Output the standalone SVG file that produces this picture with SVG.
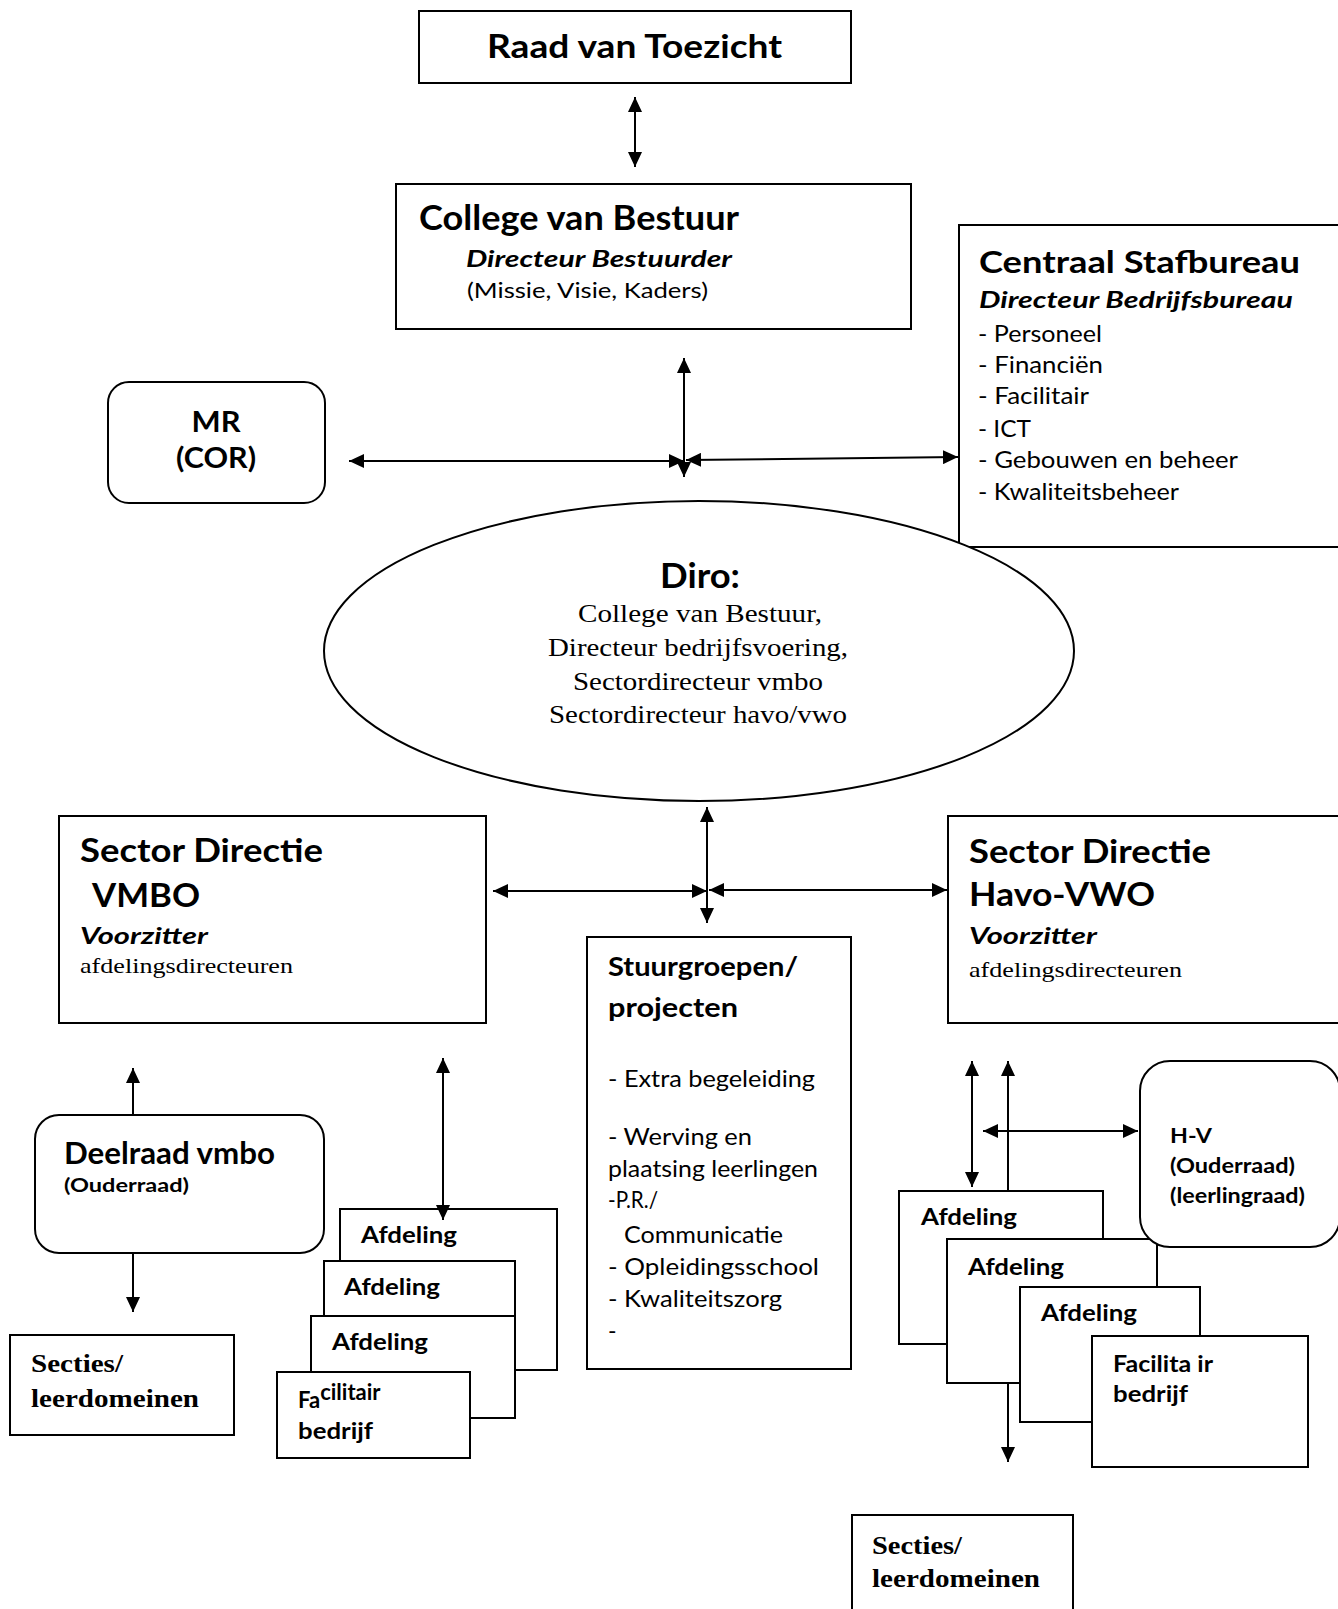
<svg xmlns="http://www.w3.org/2000/svg" width="1338" height="1609" viewBox="0 0 1338 1609">
<style>
.box{fill:#fff;stroke:#000;stroke-width:2}
.ln{fill:none;stroke:#000;stroke-width:2}
.dbl{marker-start:url(#ah);marker-end:url(#ah)}
.end{marker-end:url(#ah)}
text{fill:#000}
.b{font-family:Lato,"Liberation Sans",sans-serif;font-weight:700}
.r{font-family:Lato,"Liberation Sans",sans-serif;font-weight:400}
.bi{font-family:Lato,"Liberation Sans",sans-serif;font-weight:700;font-style:italic}
.s{font-family:"Liberation Serif",serif;font-weight:400}
.sb{font-family:"Liberation Serif",serif;font-weight:700}
</style>
<defs>
<marker id="ah" viewBox="0 0 15 14" refX="15" refY="7" markerWidth="15" markerHeight="14" markerUnits="userSpaceOnUse" orient="auto-start-reverse">
<path d="M0,0 L15,7 L0,14 z" fill="#000"/>
</marker>
</defs>
<rect width="1338" height="1609" fill="#fff"/>

<g id="raad">
<rect class="box" x="419" y="11" width="432" height="72"/>
<text class="b" x="487" y="58" font-size="32" textLength="295" lengthAdjust="spacingAndGlyphs">Raad van Toezicht</text>
</g>

<g id="college">
<rect class="box" x="396" y="184" width="515" height="145"/>
<text class="b" x="419" y="230" font-size="34" textLength="320" lengthAdjust="spacingAndGlyphs">College van Bestuur</text>
<text class="bi" x="466" y="267" font-size="23" textLength="266" lengthAdjust="spacingAndGlyphs">Directeur Bestuurder</text>
<text class="r" x="467" y="298" font-size="21" textLength="241" lengthAdjust="spacingAndGlyphs">(Missie, Visie, Kaders)</text>
</g>

<g id="centraal">
<rect class="box" x="959" y="225" width="390" height="322"/>
<text class="b" x="979" y="273" font-size="30" textLength="321" lengthAdjust="spacingAndGlyphs">Centraal Stafbureau</text>
<text class="bi" x="979" y="308" font-size="23" textLength="314" lengthAdjust="spacingAndGlyphs">Directeur Bedrijfsbureau</text>
<text class="r" x="978" y="342" font-size="24" textLength="124" lengthAdjust="spacingAndGlyphs">- Personeel</text>
<text class="r" x="978" y="373" font-size="24" textLength="125" lengthAdjust="spacingAndGlyphs">- Financiën</text>
<text class="r" x="978" y="404" font-size="24" textLength="111" lengthAdjust="spacingAndGlyphs">- Facilitair</text>
<text class="r" x="978" y="437" font-size="24" textLength="53" lengthAdjust="spacingAndGlyphs">- ICT</text>
<text class="r" x="978" y="468" font-size="24" textLength="260" lengthAdjust="spacingAndGlyphs">- Gebouwen en beheer</text>
<text class="r" x="978" y="500" font-size="24" textLength="201" lengthAdjust="spacingAndGlyphs">- Kwaliteitsbeheer</text>
</g>

<g id="mr">
<rect class="box" x="108" y="382" width="217" height="121" rx="21" ry="21"/>
<text class="b" x="216" y="432" font-size="28" text-anchor="middle" textLength="49" lengthAdjust="spacingAndGlyphs">MR</text>
<text class="b" x="216" y="468" font-size="28" text-anchor="middle" textLength="80" lengthAdjust="spacingAndGlyphs">(COR)</text>
</g>

<g id="diro">
<ellipse class="box" cx="699" cy="651" rx="375" ry="150"/>
<text class="b" x="700" y="588" font-size="34" text-anchor="middle" textLength="80" lengthAdjust="spacingAndGlyphs">Diro:</text>
<text class="s" x="578" y="622" font-size="26" textLength="244" lengthAdjust="spacingAndGlyphs">College van Bestuur,</text>
<text class="s" x="548" y="656" font-size="26" textLength="300" lengthAdjust="spacingAndGlyphs">Directeur bedrijfsvoering,</text>
<text class="s" x="573" y="690" font-size="26" textLength="250" lengthAdjust="spacingAndGlyphs">Sectordirecteur vmbo</text>
<text class="s" x="549" y="723" font-size="26" textLength="298" lengthAdjust="spacingAndGlyphs">Sectordirecteur havo/vwo</text>
</g>

<g id="sector-vmbo">
<rect class="box" x="59" y="816" width="427" height="207"/>
<text class="b" x="80" y="862" font-size="33" textLength="243" lengthAdjust="spacingAndGlyphs">Sector Directie</text>
<text class="b" x="92" y="907" font-size="33" textLength="108" lengthAdjust="spacingAndGlyphs">VMBO</text>
<text class="bi" x="80" y="944" font-size="22" textLength="128" lengthAdjust="spacingAndGlyphs">Voorzitter</text>
<text class="s" x="80" y="973" font-size="21" textLength="213" lengthAdjust="spacingAndGlyphs">afdelingsdirecteuren</text>
</g>

<g id="sector-havo">
<rect class="box" x="948" y="816" width="400" height="207"/>
<text class="b" x="969" y="863" font-size="33" textLength="242" lengthAdjust="spacingAndGlyphs">Sector Directie</text>
<text class="b" x="969" y="906" font-size="33" textLength="186" lengthAdjust="spacingAndGlyphs">Havo-VWO</text>
<text class="bi" x="969" y="944" font-size="22" textLength="128" lengthAdjust="spacingAndGlyphs">Voorzitter</text>
<text class="s" x="969" y="977" font-size="21" textLength="213" lengthAdjust="spacingAndGlyphs">afdelingsdirecteuren</text>
</g>

<g id="stuurgroepen">
<rect class="box" x="587" y="937" width="264" height="432"/>
<text class="b" x="608" y="976" font-size="27" textLength="190" lengthAdjust="spacingAndGlyphs">Stuurgroepen/</text>
<text class="b" x="608" y="1017" font-size="27" textLength="130" lengthAdjust="spacingAndGlyphs">projecten</text>
<text class="r" x="608" y="1087" font-size="23" textLength="207" lengthAdjust="spacingAndGlyphs">- Extra begeleiding</text>
<text class="r" x="608" y="1145" font-size="23" textLength="144" lengthAdjust="spacingAndGlyphs">- Werving en</text>
<text class="r" x="608" y="1177" font-size="23" textLength="210" lengthAdjust="spacingAndGlyphs">plaatsing leerlingen</text>
<text class="r" x="608" y="1208" font-size="23" textLength="50" lengthAdjust="spacingAndGlyphs">-P.R./</text>
<text class="r" x="624" y="1243" font-size="23" textLength="159" lengthAdjust="spacingAndGlyphs">Communicatie</text>
<text class="r" x="608" y="1275" font-size="23" textLength="211" lengthAdjust="spacingAndGlyphs">- Opleidingsschool</text>
<text class="r" x="608" y="1307" font-size="23" textLength="174" lengthAdjust="spacingAndGlyphs">- Kwaliteitszorg</text>
<text class="r" x="608" y="1339" font-size="23">-</text>
</g>

<g id="deelraad">
<rect class="box" x="35" y="1115" width="289" height="138" rx="24" ry="24"/>
<text class="b" x="64" y="1164" font-size="30" textLength="211" lengthAdjust="spacingAndGlyphs">Deelraad vmbo</text>
<text class="b" x="64" y="1192" font-size="19" textLength="125" lengthAdjust="spacingAndGlyphs">(Ouderraad)</text>
</g>

<g id="secties-vmbo">
<rect class="box" x="10" y="1335" width="224" height="100"/>
<text class="sb" x="31" y="1372" font-size="26" textLength="92" lengthAdjust="spacingAndGlyphs">Secties/</text>
<text class="sb" x="31" y="1407" font-size="26" textLength="168" lengthAdjust="spacingAndGlyphs">leerdomeinen</text>
</g>

<g id="afdeling-vmbo-1">
<rect class="box" x="340" y="1209" width="217" height="161"/>
<text class="b" x="361" y="1243" font-size="22" textLength="96" lengthAdjust="spacingAndGlyphs">Afdeling</text>
</g>
<g id="afdeling-vmbo-2">
<rect class="box" x="324" y="1261" width="191" height="120"/>
<text class="b" x="344" y="1295" font-size="22" textLength="96" lengthAdjust="spacingAndGlyphs">Afdeling</text>
</g>
<g id="afdeling-vmbo-3">
<rect class="box" x="311" y="1316" width="204" height="102"/>
<text class="b" x="332" y="1350" font-size="22" textLength="96" lengthAdjust="spacingAndGlyphs">Afdeling</text>
</g>
<g id="facilitair-vmbo">
<rect class="box" x="277" y="1372" width="193" height="86"/>
<text class="b" x="298" y="1408" font-size="22">Fa<tspan dy="-8">cilitair</tspan></text>
<text class="b" x="298" y="1439" font-size="22" textLength="75" lengthAdjust="spacingAndGlyphs">bedrijf</text>
</g>

<g id="afdeling-havo-1">
<rect class="box" x="899" y="1191" width="204" height="153"/>
<text class="b" x="921" y="1225" font-size="22" textLength="96" lengthAdjust="spacingAndGlyphs">Afdeling</text>
</g>
<g id="afdeling-havo-2">
<rect class="box" x="947" y="1239" width="210" height="144"/>
<text class="b" x="968" y="1275" font-size="22" textLength="96" lengthAdjust="spacingAndGlyphs">Afdeling</text>
</g>
<g id="hv">
<rect class="box" x="1140" y="1061" width="200" height="186" rx="30" ry="30"/>
<text class="b" x="1170" y="1143" font-size="21" textLength="42" lengthAdjust="spacingAndGlyphs">H-V</text>
<text class="b" x="1170" y="1173" font-size="21" textLength="125" lengthAdjust="spacingAndGlyphs">(Ouderraad)</text>
<text class="b" x="1170" y="1203" font-size="21" textLength="135" lengthAdjust="spacingAndGlyphs">(leerlingraad)</text>
</g>
<g id="afdeling-havo-3">
<rect class="box" x="1020" y="1287" width="180" height="135"/>
<text class="b" x="1041" y="1321" font-size="22" textLength="96" lengthAdjust="spacingAndGlyphs">Afdeling</text>
</g>
<g id="facilitair-havo">
<rect class="box" x="1092" y="1336" width="216" height="131"/>
<text class="b" x="1113" y="1372" font-size="22" textLength="100" lengthAdjust="spacingAndGlyphs">Facilita ir</text>
<text class="b" x="1113" y="1402" font-size="22" textLength="75" lengthAdjust="spacingAndGlyphs">bedrijf</text>
</g>

<g id="secties-havo">
<rect class="box" x="852" y="1515" width="221" height="100"/>
<text class="sb" x="872" y="1554" font-size="26" textLength="90" lengthAdjust="spacingAndGlyphs">Secties/</text>
<text class="sb" x="872" y="1587" font-size="26" textLength="168" lengthAdjust="spacingAndGlyphs">leerdomeinen</text>
</g>

<g id="connectors">
<line class="ln dbl" x1="635" y1="97" x2="635" y2="167"/>
<line class="ln dbl" x1="684" y1="358" x2="684" y2="477"/>
<line class="ln dbl" x1="349" y1="461" x2="684" y2="461"/>
<line class="ln dbl" x1="686" y1="460" x2="958" y2="457"/>
<line class="ln dbl" x1="707" y1="807" x2="707" y2="923"/>
<line class="ln dbl" x1="493" y1="891" x2="707" y2="891"/>
<line class="ln dbl" x1="709" y1="890" x2="947" y2="890"/>
<line class="ln end" x1="133" y1="1115" x2="133" y2="1068"/>
<line class="ln end" x1="133" y1="1253" x2="133" y2="1312"/>
<line class="ln dbl" x1="443" y1="1058" x2="443" y2="1220"/>
<line class="ln dbl" x1="972" y1="1061" x2="972" y2="1187"/>
<line class="ln end" x1="1008" y1="1191" x2="1008" y2="1061"/>
<line class="ln end" x1="1008" y1="1383" x2="1008" y2="1462"/>
<line class="ln dbl" x1="983" y1="1131" x2="1138" y2="1131"/>
</g>
</svg>
